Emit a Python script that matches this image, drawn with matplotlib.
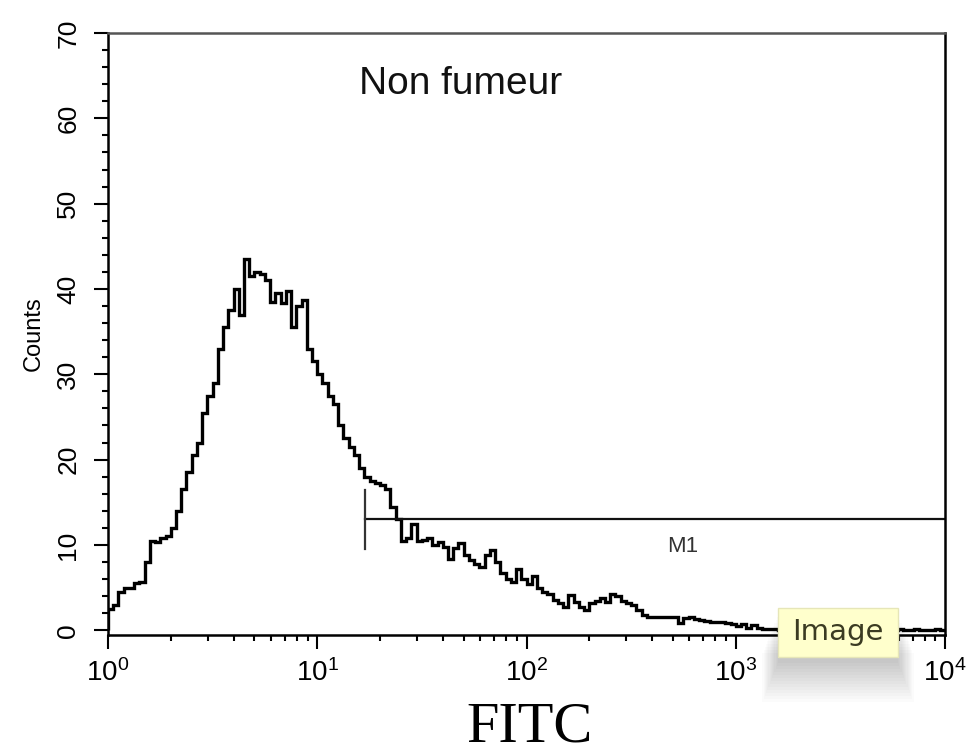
import numpy as np
import matplotlib
matplotlib.use("Agg")
import matplotlib.pyplot as plt
from matplotlib.ticker import FixedLocator, MultipleLocator, FuncFormatter, LogLocator, NullFormatter
from matplotlib.patches import Rectangle

# ---- data (counts per log channel, 40 channels per decade, 10^0 .. 10^4) ----
counts = [
    2.5, 3, 4.5, 5, 5, 5.5, 5.7, 8, 10.5, 10.3,
    10.8, 11, 12, 14, 16.5, 18.5, 20.5, 22, 25.5, 27.5,
    29, 33, 35.5, 37.5, 40, 37, 43.5, 41.5, 42, 41.8,
    41, 38.5, 39.5, 38.3, 39.8, 35.5, 38, 38.7, 33, 31.5,
    30, 29, 27.5, 26.5, 24, 22.5, 21.5, 20.5, 19, 18,
    17.5, 17.3, 17, 16.5, 14.5, 13, 10.5, 10.8, 12.5, 10.5,
    10.6, 10.8, 10, 10.3, 9.8, 8.3, 9.6, 10.2, 8.8, 8.2,
    7.8, 7.4, 8.8, 9.4, 8.0, 6.7, 6.0, 5.6, 7.2, 6.0,
    5.4, 6.3, 5.0, 4.5, 4.2, 3.6, 3.2, 2.7, 4.1, 3.3,
    2.7, 2.4, 3.2, 3.4, 3.8, 3.3, 4.2, 4.0, 3.4, 3.2,
    2.9, 2.4, 1.8, 1.6, 1.6, 1.6, 1.5, 1.6, 1.5, 0.9,
    1.4, 1.5, 1.3, 1.2, 1.1, 1.0, 1.0, 1.0, 0.9, 0.7,
    0.5, 0.7, 0.3, 0.6, 0.3, 0.2, 0.2, 0.1, 0.0, 0.0,
    0.2, 0.0, 0.0, 0.1, 0.0, 0.0, 0.0, 0.0, 0.0, 0.0,
    0.0, 0.0, 0.0, 0.0, 0.0, 0.0, 0.0, 0.0, 0.0, 0.0,
    0.0, 0.2, 0.0, 0.0, 0.1, 0.0, 0.0, 0.0, 0.1, 0.0,
]
x_range = (1, 1e4)
y_range = (-0.5, 70)
y_ticks = [0, 10, 20, 30, 40, 50, 60, 70]
x_ticks = [1, 10, 100, 1000, 10000]
x_tick_labels = ["$\\mathregular{10^{0}}$", "$\\mathregular{10^{1}}$", "$\\mathregular{10^{2}}$",
                 "$\\mathregular{10^{3}}$", "$\\mathregular{10^{4}}$"]
m1_start = 16.9
m1_level = 13.0
m1_bar = (9.5, 16.4)
m1_label = "M1"
m1_label_pos = (560, 9.8)
title_text = "Non fumeur"
title_pos = (48.6, 64.0)
x_label = "FITC"
y_label = "Counts"

plt.rcParams["font.family"] = ["Liberation Sans", "DejaVu Sans"]
plt.rcParams["mathtext.fontset"] = "custom"
plt.rcParams["mathtext.rm"] = "Liberation Sans"

fig = plt.figure(figsize=(9.67, 7.54), dpi=100)
ax = fig.add_axes([108 / 967, (754 - 634.5) / 754, (945 - 108) / 967, (634.5 - 33) / 754])

edges = np.logspace(np.log10(x_range[0]), np.log10(x_range[1]), len(counts) + 1)
ax.stairs(counts, edges, baseline=0, color="black", lw=2.4)

# M1 marker
ax.plot([m1_start, x_range[1]], [m1_level, m1_level], color="#111111", lw=1.6)
ax.plot([m1_start, m1_start], list(m1_bar), color="#333333", lw=1.6)
ax.text(m1_label_pos[0], m1_label_pos[1], m1_label, fontsize=16, color="#333333",
        ha="center", va="center")

ax.text(title_pos[0], title_pos[1], title_text, fontsize=28, ha="center", va="center",
        color="#111111")

ax.set_xscale("log")
ax.set_xlim(*x_range)
ax.set_ylim(*y_range)

ax.xaxis.set_major_locator(FixedLocator(x_ticks))
ax.xaxis.set_major_formatter(FuncFormatter(lambda v, p: x_tick_labels[x_ticks.index(v)] if v in x_ticks else ""))
ax.xaxis.set_minor_locator(LogLocator(base=10, subs=np.arange(2, 10), numticks=20))
ax.xaxis.set_minor_formatter(NullFormatter())
ax.yaxis.set_major_locator(FixedLocator(y_ticks))
ax.yaxis.set_minor_locator(MultipleLocator(2))

ax.tick_params(axis="both", which="major", direction="out", length=10, width=1.5, colors="black")
ax.tick_params(axis="both", which="minor", direction="out", length=4, width=1.5, colors="black")
ax.tick_params(axis="x", which="major", labelsize=20, pad=8)
ax.tick_params(axis="y", which="major", labelsize=19, pad=10)
for lab in ax.get_yticklabels():
    lab.set_rotation(90)
    lab.set_va("center")

for s in ax.spines.values():
    s.set_linewidth(1.8)
    s.set_color("black")
ax.spines["top"].set_color("#555555")

ax.set_ylabel(y_label, fontsize=17, labelpad=8)
ax.set_xlabel(x_label, fontsize=42, family="Liberation Serif")
ax.xaxis.label.set_va("baseline")
ax.xaxis.set_label_coords((530 - 108) / 837, (634.5 - 741) / 601.5)

# "Image" tooltip overlay with soft shadow
bx0, by0, bw, bh = 778 / 967, (754 - 657) / 754, 120 / 967, 49 / 754
for i in range(14):
    d = i * 3.0
    fig.patches.append(Rectangle((bx0 - d * 0.4 / 967, by0 - (6 + d) / 754), bw + d * 0.8 / 967, bh,
                                 transform=fig.transFigure, facecolor="black",
                                 alpha=0.014, edgecolor="none", zorder=5))
fig.patches.append(Rectangle((bx0, by0), bw, bh, transform=fig.transFigure,
                             facecolor="#FFFFCC", edgecolor="#E6E6B8", lw=1, zorder=6))
fig.text(bx0 + bw / 2, by0 + bh / 2, "Image", fontsize=21, family="DejaVu Sans",
         color="#3B3B22", ha="center", va="center", zorder=7)

fig.savefig("out.png", dpi=100)
